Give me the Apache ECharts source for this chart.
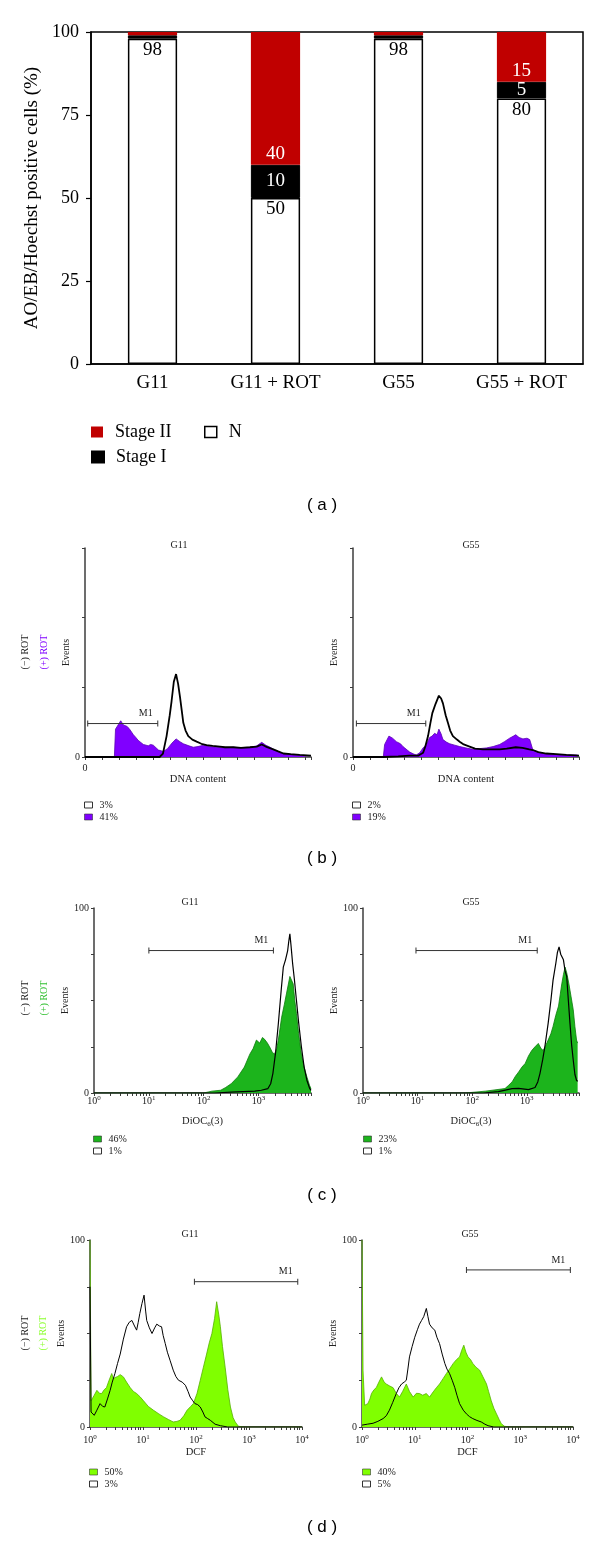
<!DOCTYPE html>
<html><head><meta charset="utf-8">
<script src="https://cdn.jsdelivr.net/npm/echarts@6/dist/echarts.min.js"></script>
<style>html,body{margin:0;padding:0;background:#fff}#c{width:600px;height:1542px}</style>
</head><body><div id="c"></div>
<script>
// ---------- Panel (a) data ----------
const categories = ['G11', 'G11 + ROT', 'G55', 'G55 + ROT'];
const stageN = [98, 50, 98, 80];
const stageI = [1, 10, 1, 5];
const stageII = [1, 40, 1, 15];

// ---------- Panel (b) data: DNA content (channel 0-100) vs events ----------
const bG11Neg = [[0,0],[33,0],[34.5,5],[36.1,30],[37.5,60],[38.3,80],[39.3,108],[40.3,119],[41.2,105],[42,87],[43,62],[43.5,49],[44.5,38],[45.7,30],[47.5,25],[49.4,22],[51.5,19],[53.8,17],[56.5,16],[59.7,15],[62,14],[65.6,14],[69,13],[73,14],[76,15],[78.2,18],[80,15],[83.3,11],[85.5,8],[87.8,5],[91,4],[95,3],[100,2]];
const bG11Pos = [[0,0],[13,0],[13.5,40],[15.8,52],[17,46],[18.5,44],[19.5,41],[21.4,32],[22.5,28],[23.5,24],[25.8,18],[27,17],[28,16],[29,18],[30.2,17],[32.5,10],[34.7,8],[36.5,12],[38.5,20],[40.3,26],[42,22],[43.5,19],[46,16],[47.9,14],[50,15],[52.4,17],[55,15],[58.3,14],[62,13],[65.6,14],[69,13],[73,14],[76,16],[78.2,21],[80,17],[81.9,14],[84,10],[86.3,6],[89,4],[92.2,3],[96,2],[100,2]];
const bG55Neg = [[0,0],[13.5,0],[20,1],[25,2],[29,2],[31,6],[32,15],[33.2,30],[34.2,48],[35.1,63],[36.5,76],[38,88],[39,84],[39.8,77],[41,60],[42,49],[43,38],[44.2,30],[46,25],[47.2,22],[49,18],[51.6,15],[54,12],[57.5,11],[61,11],[64.9,11],[68,12],[72,14],[75,13],[78,11],[79.6,10],[82,7],[85.5,5],[90,4],[94.4,3],[100,2]];
const bG55Pos = [[0,0],[13.4,0],[14,18],[15.9,30],[17.5,27],[19.2,22],[21,19],[22.1,15],[24,10],[25.1,7],[27,4],[28,3],[29.5,6],[31,13],[32.5,18],[33.9,28],[35,30],[36.1,34],[37.2,32],[38,40],[39,33],[39.8,25],[41.5,21],[42.8,19],[45,17],[47.2,15],[50,13],[53.1,11],[56,12],[59,13],[62,15],[64.9,18],[67,22],[69.3,27],[71,30],[72,32],[73.5,28],[75.2,26],[77,27],[78.2,25],[79.6,10],[82,7],[84,5],[88,4],[91.4,3],[95,3],[98.8,3],[100,2]];

// ---------- Panel (c) data: log10(DiOC6(3)) vs events ----------
const cG11Neg = [[0,0],[2.2,0],[2.5,0.5],[2.93,1],[3.05,1.5],[3.17,2.4],[3.22,5],[3.26,10.5],[3.31,22],[3.36,37.6],[3.41,55],[3.45,68],[3.49,72],[3.53,77],[3.55,82],[3.57,86],[3.59,80],[3.62,70],[3.65,62],[3.69,50],[3.73,38],[3.78,25],[3.83,14],[3.88,6.9],[3.93,2.5],[3.955,1.4]];
const cG11Pos = [[0,0],[2.0,0],[2.15,1],[2.31,1.5],[2.4,3],[2.5,5],[2.62,8.7],[2.74,14],[2.84,21],[2.9,24],[2.96,28.6],[3.02,27],[3.07,30],[3.11,29],[3.16,27],[3.2,25],[3.25,22],[3.29,21],[3.33,24],[3.36,28.6],[3.42,41],[3.47,48],[3.51,54],[3.55,60],[3.57,63],[3.6,62],[3.63,59],[3.66,50],[3.69,43],[3.73,32],[3.78,21],[3.83,14],[3.88,8.7],[3.93,4],[3.955,2.4]];
const cG55Neg = [[0,0],[2.2,0],[2.48,0.7],[2.73,2.4],[2.85,2.5],[3.03,1.8],[3.15,3],[3.2,6],[3.24,10.5],[3.29,18],[3.33,25],[3.39,37.6],[3.44,50],[3.48,61],[3.53,70],[3.56,76],[3.59,79],[3.62,75],[3.67,72],[3.7,66],[3.73,63],[3.76,50],[3.79,37.6],[3.82,26],[3.85,17.7],[3.88,10],[3.91,6.9],[3.93,6.3]];
const cG55Pos = [[0,0],[1.88,0],[2.24,1],[2.6,2.4],[2.66,4],[2.73,6],[2.79,9],[2.85,11.4],[2.91,14],[2.97,16],[3.03,20],[3.09,23],[3.15,25],[3.21,26.8],[3.26,24],[3.3,23],[3.35,26],[3.39,28.6],[3.44,32],[3.48,36],[3.53,42],[3.58,47],[3.61,53],[3.64,59],[3.67,64],[3.7,68],[3.73,65],[3.77,59],[3.81,52],[3.85,45],[3.88,36],[3.91,28.6],[3.93,27]];

// ---------- Panel (d) data: log10(DCF) vs events ----------
const dG11Neg = [[0,75],[0.02,8],[0.08,6.25],[0.13,9],[0.19,12.5],[0.24,11],[0.28,10.7],[0.33,15],[0.38,19.6],[0.42,24],[0.47,28.6],[0.52,34],[0.57,39],[0.63,47],[0.69,53.6],[0.74,56],[0.79,57],[0.84,54],[0.88,51.8],[0.91,56],[0.94,60.7],[0.98,66],[1.02,70.5],[1.05,62],[1.07,57],[1.12,53],[1.17,50],[1.22,53],[1.26,55],[1.31,54],[1.35,53.6],[1.38,49],[1.42,44.6],[1.46,40],[1.51,35.7],[1.57,30.4],[1.62,27],[1.67,25],[1.74,24],[1.8,22.3],[1.85,19],[1.89,16],[1.94,14],[1.98,12.5],[2.03,12],[2.08,10.7],[2.13,8],[2.17,5.4],[2.22,4.5],[2.27,3.6],[2.36,1.5],[2.46,0.7],[2.6,0],[4,0]];
const dG11Pos = [[0,100],[0.02,14],[0.08,17],[0.13,19.6],[0.18,18],[0.22,17.9],[0.27,20],[0.31,21],[0.36,25],[0.41,28.6],[0.44,26],[0.47,25],[0.52,27],[0.57,28],[0.63,26.8],[0.69,24],[0.76,21],[0.82,19],[0.88,17.9],[0.95,16],[1.01,14],[1.1,11],[1.2,8.9],[1.3,7],[1.39,5.4],[1.48,4],[1.57,2.7],[1.64,3],[1.7,3.6],[1.77,6],[1.83,8.9],[1.9,11],[1.95,12.5],[2.02,18],[2.08,25],[2.14,32],[2.2,39],[2.25,45],[2.3,50],[2.35,58],[2.39,67],[2.43,60],[2.46,53.6],[2.5,43],[2.55,32],[2.6,20],[2.65,10.7],[2.7,5],[2.74,2.7],[2.8,0.4],[2.9,0],[4,0]];
const dG55Neg = [[0,1],[0.1,1.5],[0.21,2],[0.3,3],[0.4,4.5],[0.46,6],[0.52,9],[0.58,13],[0.65,17.9],[0.7,21],[0.75,23],[0.8,24],[0.84,25],[0.87,31],[0.9,37.5],[0.95,43],[1.0,48],[1.05,52],[1.09,55],[1.13,57],[1.17,59],[1.22,63.4],[1.25,59],[1.28,55],[1.33,53],[1.38,51.8],[1.42,48],[1.47,44.6],[1.52,39],[1.57,34],[1.61,31],[1.66,28.6],[1.71,25],[1.76,21],[1.8,17],[1.85,12.5],[1.92,9],[1.98,7],[2.04,5.5],[2.1,4.5],[2.18,3.5],[2.26,2.7],[2.33,1.5],[2.39,0.7],[2.5,0],[4,0]];
const dG55Pos = [[0,100],[0.02,30],[0.05,11.6],[0.11,12.5],[0.15,15],[0.18,17.9],[0.23,20],[0.27,21],[0.32,24],[0.37,26.8],[0.42,24],[0.46,23],[0.52,22],[0.59,21],[0.65,18],[0.71,16],[0.77,19],[0.84,23],[0.9,19],[0.97,16],[1.03,18],[1.09,17.9],[1.15,17],[1.22,17.9],[1.28,16],[1.35,18.8],[1.41,21],[1.47,23],[1.54,26],[1.6,28.6],[1.66,31],[1.73,34],[1.79,36],[1.85,37.5],[1.89,41],[1.93,43.75],[1.97,40],[2.01,37.5],[2.06,36],[2.1,34],[2.16,32],[2.23,30.4],[2.29,27],[2.36,23],[2.4,19],[2.45,14],[2.5,10],[2.55,7],[2.6,4],[2.64,1.8],[2.7,0.4],[2.8,0],[4,0]];

// ---------- M1 gates: [from, to, height] ----------
const gateBG11 = [1.2, 32.2, 48];
const gateBG55 = [1.5, 32.2, 48];
const gateCG11 = [1.0, 3.27, 77];
const gateCG55 = [0.97, 3.19, 77];
const gateDG11 = [1.97, 3.92, 77.7];
const gateDG55 = [1.98, 3.95, 84];

// ---------- legend percentages [(-) ROT, (+) ROT] ----------
const pctBG11 = ['3%', '41%'];
const pctBG55 = ['2%', '19%'];
const pctCG11 = ['1%', '46%'];
const pctCG55 = ['1%', '23%'];
const pctDG11 = ['3%', '50%'];
const pctDG55 = ['5%', '40%'];

// ---------- tick labels ----------
const yTicksA = [0, 25, 50, 75, 100];
const logDecadesC = [0, 1, 2, 3];
const logDecadesD = [0, 1, 2, 3, 4];

const SERIF = '"Liberation Serif", "DejaVu Serif", serif';
const SANS = '"Liberation Sans", "DejaVu Sans", sans-serif';
const AX = '#3c3c3c';
const TXT = '#222';
const PURPLE = '#8000ff', PURPLE_E = '#5a00b4';
const GREEN = '#1cb41c', GREEN_E = '#0c7c0c';
const LGREEN = '#80ff00', LGREEN_E = '#55b000';

function minorTicks(maxExp) {
  const out = [];
  for (let d = 0; d <= 4; d++) for (let k = 1; k <= 9; k++) {
    const v = d + Math.log10(k);
    if (v <= maxExp + 1e-9) out.push(v);
  }
  return out;
}

const grids = [
  {left: 91, top: 32, width: 492, height: 332, show: true, borderColor: '#000', borderWidth: 1.5, backgroundColor: 'transparent'},
  {left: 85, top: 548, width: 226, height: 209},
  {left: 353, top: 548, width: 226, height: 209},
  {left: 94, top: 908, width: 217, height: 185},
  {left: 363, top: 908, width: 216, height: 185},
  {left: 90, top: 1240, width: 212, height: 187},
  {left: 362, top: 1240, width: 211, height: 187}
];

const smallText = {fontFamily: SERIF, fontSize: 10, color: TXT};

function histX(gi) {
  return {gridIndex: gi, type: 'value', min: 0, max: 100, interval: 7.5,
    axisLine: {lineStyle: {color: AX, width: 1.5}},
    axisTick: {length: 3, lineStyle: {color: AX}},
    axisLabel: Object.assign({margin: 6, formatter: v => v === 0 ? '0' : ''}, smallText),
    splitLine: {show: false},
    name: 'DNA content', nameLocation: 'middle', nameGap: 16,
    nameTextStyle: {fontFamily: SERIF, fontSize: 10.5, color: TXT}};
}
function histY(gi) {
  return {gridIndex: gi, type: 'value', min: 0, max: 300, interval: 100,
    axisLine: {show: true, lineStyle: {color: AX, width: 1.5}},
    axisTick: {show: true, length: 3, lineStyle: {color: AX}},
    axisLabel: Object.assign({margin: 5, formatter: v => v === 0 ? '0' : ''}, smallText),
    splitLine: {show: false},
    name: 'Events', nameLocation: 'middle', nameGap: 13, nameRotate: 90,
    nameTextStyle: {fontFamily: SERIF, fontSize: 10, color: TXT}};
}
function logX(gi, maxExp, decades, name, margin, gap) {
  return {gridIndex: gi, type: 'value', min: 0, max: maxExp,
    axisLine: {lineStyle: {color: AX, width: 1.5}},
    axisTick: {length: 3, lineStyle: {color: AX}, customValues: minorTicks(maxExp)},
    axisLabel: {customValues: decades, margin: margin, fontFamily: SERIF, fontSize: 10, color: TXT,
      formatter: v => '10{s|' + Math.round(v) + '}',
      rich: {s: {fontFamily: SERIF, fontSize: 7, color: TXT, padding: [0, 0, 6, 0]}}},
    splitLine: {show: false},
    name: name, nameLocation: 'middle', nameGap: gap,
    nameTextStyle: {fontFamily: SERIF, fontSize: 10.5, color: TXT,
      rich: {sub: {fontFamily: SERIF, fontSize: 7, color: TXT, padding: [6, 0, 0, 0]}}}};
}
function pctY(gi) {
  return {gridIndex: gi, type: 'value', min: 0, max: 100, interval: 25,
    axisLine: {show: true, lineStyle: {color: AX, width: 1.5}},
    axisTick: {show: true, length: 3, lineStyle: {color: AX}},
    axisLabel: Object.assign({margin: 5, formatter: v => (v === 0 || v === 100) ? String(v) : ''}, smallText),
    splitLine: {show: false},
    name: 'Events', nameLocation: 'middle', nameGap: 16, nameRotate: 90,
    nameTextStyle: {fontFamily: SERIF, fontSize: 10, color: TXT}};
}

const xAxes = [
  {gridIndex: 0, type: 'category', data: categories,
    axisLine: {lineStyle: {color: '#000', width: 1.5}},
    axisTick: {length: 5, lineStyle: {color: '#000', width: 1.2}},
    axisLabel: {fontFamily: SERIF, fontSize: 19, color: '#000', margin: 10}},
  histX(1), histX(2),
  logX(3, 3.955, logDecadesC, 'DiOC{sub|6}(3)', 2, 22),
  logX(4, 3.955, logDecadesC, 'DiOC{sub|6}(3)', 2, 22),
  logX(5, 4, logDecadesD, 'DCF', 7, 20),
  logX(6, 4, logDecadesD, 'DCF', 7, 20)
];
const yAxes = [
  {gridIndex: 0, type: 'value', min: 0, max: 100, interval: 25,
    axisLine: {show: true, lineStyle: {color: '#000', width: 1.5}},
    axisTick: {show: true, length: 5, lineStyle: {color: '#000', width: 1.2}},
    axisLabel: {fontFamily: SERIF, fontSize: 18, color: '#000', margin: 12,
      formatter: v => yTicksA.indexOf(v) >= 0 ? String(v) : ''},
    splitLine: {show: false},
    name: 'AO/EB/Hoechst positive cells (%)', nameLocation: 'middle', nameGap: 49, nameRotate: 90,
    nameTextStyle: {fontFamily: SERIF, fontSize: 19, color: '#000'}},
  histY(1), histY(2), pctY(3), pctY(4), pctY(5), pctY(6)
];

const barLabel = {fontFamily: SERIF, fontSize: 19};
const series = [
  {name: 'N', type: 'bar', stack: 'a', xAxisIndex: 0, yAxisIndex: 0, data: stageN, barWidth: '40%',
    itemStyle: {color: '#fff', borderColor: '#000', borderWidth: 1.5},
    label: Object.assign({show: true, position: 'insideTop', distance: 2, color: '#000'}, barLabel)},
  {name: 'Stage I', type: 'bar', stack: 'a', xAxisIndex: 0, yAxisIndex: 0, data: stageI, barWidth: '40%',
    itemStyle: {color: '#000', borderColor: '#000', borderWidth: 1},
    label: Object.assign({show: true, position: 'inside', color: '#fff', formatter: p => p.value >= 5 ? p.value : ''}, barLabel)},
  {name: 'Stage II', type: 'bar', stack: 'a', xAxisIndex: 0, yAxisIndex: 0, data: stageII, barWidth: '40%',
    itemStyle: {color: '#c00000'},
    label: Object.assign({show: true, position: 'insideBottom', distance: 1, color: '#fff', formatter: p => p.value >= 5 ? p.value : ''}, barLabel)}
];

function histPair(gi, pos, neg, fill, edge, negW, posName, negName, negFirst) {
  const p = {name: posName, type: 'line', xAxisIndex: gi, yAxisIndex: gi, data: pos, symbol: 'none',
    lineStyle: {color: edge, width: 0.8}, itemStyle: {color: fill}, areaStyle: {color: fill, opacity: 1}, z: 2};
  const n = {name: negName, type: 'line', xAxisIndex: gi, yAxisIndex: gi, data: neg, symbol: 'none',
    lineStyle: {color: '#000', width: negW}, itemStyle: {color: '#fff'}, z: 3};
  series.push(p, n);
}
function gate(gi, g) {
  series.push({type: 'line', xAxisIndex: gi, yAxisIndex: gi, symbol: 'rect', symbolSize: [1, 6],
    lineStyle: {color: '#333', width: 1}, itemStyle: {color: '#333'}, z: 4,
    data: [{value: [g[0], g[2]]},
      {value: [g[1], g[2]], label: {show: true, formatter: 'M1', position: 'top', distance: 2, offset: [-12, 0],
        fontFamily: SERIF, fontSize: 10, color: TXT}}]});
}
histPair(1, bG11Pos, bG11Neg, PURPLE, PURPLE_E, 1.8, 'bG11Pos', 'bG11Neg');
histPair(2, bG55Pos, bG55Neg, PURPLE, PURPLE_E, 1.8, 'bG55Pos', 'bG55Neg');
histPair(3, cG11Pos, cG11Neg, GREEN, GREEN_E, 1.2, 'cG11Pos', 'cG11Neg');
histPair(4, cG55Pos, cG55Neg, GREEN, GREEN_E, 1.2, 'cG55Pos', 'cG55Neg');
histPair(5, dG11Pos, dG11Neg, LGREEN, LGREEN_E, 1, 'dG11Pos', 'dG11Neg');
histPair(6, dG55Pos, dG55Neg, LGREEN, LGREEN_E, 1, 'dG55Pos', 'dG55Neg');
gate(1, gateBG11); gate(2, gateBG55); gate(3, gateCG11); gate(4, gateCG55); gate(5, gateDG11); gate(6, gateDG55);

const pctMap = {
  bG11Neg: pctBG11[0], bG11Pos: pctBG11[1], bG55Neg: pctBG55[0], bG55Pos: pctBG55[1],
  cG11Neg: pctCG11[0], cG11Pos: pctCG11[1], cG55Neg: pctCG55[0], cG55Pos: pctCG55[1],
  dG11Neg: pctDG11[0], dG11Pos: pctDG11[1], dG55Neg: pctDG55[0], dG55Pos: pctDG55[1]
};
const whiteIcon = {color: '#fff', borderColor: '#333', borderWidth: 1};
function smallLegend(left, top, first, second, fill) {
  const item = n => n.endsWith('Neg')
    ? {name: n, icon: 'rect', itemStyle: whiteIcon}
    : {name: n, icon: 'rect', itemStyle: {color: fill, borderColor: '#333', borderWidth: 0.6}};
  return {left: left, top: top, orient: 'vertical', padding: 0, itemWidth: 8, itemHeight: 6, itemGap: 2,
    selectedMode: false, data: [item(first), item(second)], formatter: n => pctMap[n],
    textStyle: {fontFamily: SERIF, fontSize: 10, color: TXT, padding: [0, 0, 0, 2]}};
}
const bigLegendText = {fontFamily: SERIF, fontSize: 18, color: '#000', padding: [0, 0, 0, 7]};
const legends = [
  {left: 91, top: 423, padding: 0, itemWidth: 12, itemHeight: 11, selectedMode: false, data: [{name: 'Stage II', icon: 'rect'}], textStyle: bigLegendText},
  {left: 91, top: 448, padding: 0, itemWidth: 12, itemHeight: 11, selectedMode: false, data: [{name: 'Stage I', icon: 'rect'}], textStyle: bigLegendText},
  {left: 204, top: 423, padding: 0, itemWidth: 12, itemHeight: 11, selectedMode: false,
    data: [{name: 'N', icon: 'rect', itemStyle: {color: '#fff', borderColor: '#000', borderWidth: 1.5}}], textStyle: bigLegendText},
  smallLegend(84, 800, 'bG11Neg', 'bG11Pos', PURPLE),
  smallLegend(352, 800, 'bG55Neg', 'bG55Pos', PURPLE),
  smallLegend(93, 1134, 'cG11Pos', 'cG11Neg', GREEN),
  smallLegend(363, 1134, 'cG55Pos', 'cG55Neg', GREEN),
  smallLegend(89, 1467, 'dG11Pos', 'dG11Neg', LGREEN),
  smallLegend(362, 1467, 'dG55Pos', 'dG55Neg', LGREEN)
];

function txt(x, y, text, opts) {
  return Object.assign({type: 'text', x: x, y: y, silent: true,
    style: Object.assign({text: text, fill: TXT, fontFamily: SERIF, fontSize: 10, textAlign: 'center', textVerticalAlign: 'middle'}, opts && opts.style || {})},
    opts && opts.rotation ? {rotation: opts.rotation} : {});
}
const R = Math.PI / 2;
const graphics = [
  txt(322, 505, '( a )', {style: {fontFamily: SANS, fontSize: 17, fill: '#000'}}),
  txt(322, 858, '( b )', {style: {fontFamily: SANS, fontSize: 17, fill: '#000'}}),
  txt(322, 1195, '( c )', {style: {fontFamily: SANS, fontSize: 17, fill: '#000'}}),
  txt(322, 1527, '( d )', {style: {fontFamily: SANS, fontSize: 17, fill: '#000'}}),
  txt(179, 545, 'G11'), txt(471, 545, 'G55'),
  txt(190, 902, 'G11'), txt(471, 902, 'G55'),
  txt(190, 1234, 'G11'), txt(470, 1234, 'G55'),
  txt(25, 652, '(−) ROT', {rotation: R}), txt(44, 652, '(+) ROT', {rotation: R, style: {fill: PURPLE}}),
  txt(25, 998, '(−) ROT', {rotation: R}), txt(44, 998, '(+) ROT', {rotation: R, style: {fill: '#33c033'}}),
  txt(25, 1333, '(−) ROT', {rotation: R}), txt(43, 1333, '(+) ROT', {rotation: R, style: {fill: '#8cff30'}})
];

const chart = echarts.init(document.getElementById('c'), null, {renderer: 'canvas'});
chart.setOption({
  animation: false,
  backgroundColor: '#fff',
  grid: grids,
  xAxis: xAxes,
  yAxis: yAxes,
  legend: legends,
  series: series,
  graphic: graphics
});
</script></body></html>
